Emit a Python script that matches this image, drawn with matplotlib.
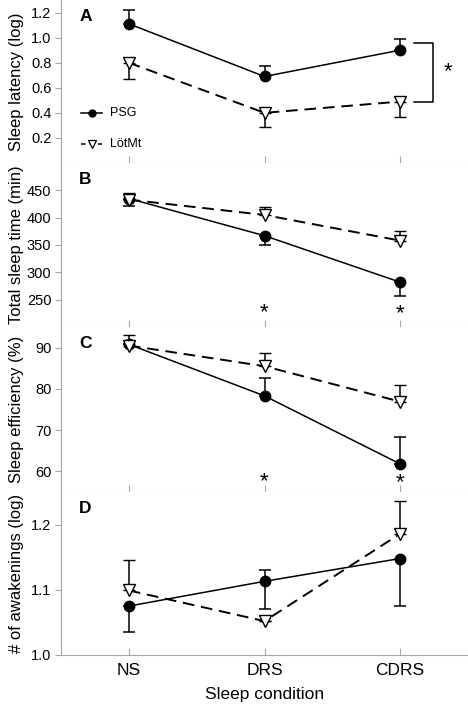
import matplotlib.pyplot as plt

plt.rcParams['font.family'] = ['Liberation Sans', 'DejaVu Sans']

conditions = ['NS', 'DRS', 'CDRS']
x = [0, 1, 2]

# panel A: sleep latency (log)
lat_psg = [1.11, 0.69, 0.90]
lat_psg_lo = [0, 0, 0]
lat_psg_hi = [0.11, 0.08, 0.09]
lat_lot = [0.80, 0.40, 0.49]
lat_lot_lo = [0.13, 0.11, 0.12]
lat_lot_hi = [0, 0, 0]

# panel B: total sleep time (min)
tst_psg = [435, 367, 282]
tst_psg_lo = [13, 17, 26]
tst_psg_hi = [0, 0, 0]
tst_lot = [433, 405, 358]
tst_lot_lo = [0, 0, 0]
tst_lot_hi = [13, 15, 17]

# panel C: sleep efficiency (%)
eff_psg = [90.8, 78.3, 61.8]
eff_psg_lo = [0, 0, 0]
eff_psg_hi = [0, 4.3, 6.5]
eff_lot = [90.5, 85.5, 76.9]
eff_lot_lo = [0, 0, 0]
eff_lot_hi = [2.5, 3.3, 4.1]

# panel D: number of awakenings (log)
awk_psg = [1.075, 1.113, 1.148]
awk_psg_lo = [0.040, 0.043, 0.073]
awk_psg_hi = [0, 0.017, 0]
awk_lot = [1.099, 1.052, 1.186]
awk_lot_lo = [0, 0, 0]
awk_lot_hi = [0.046, 0, 0.050]

W, H = 468, 706
fig = plt.figure(figsize=(W / 100, H / 100), dpi=100)

bounds = [(0, 163), (163, 327), (327, 492), (492, 655)]
axes = []
for top, bot in bounds:
    ax = fig.add_axes([61 / W, 1 - bot / H, 1 - 61 / W, (bot - top) / H])
    axes.append(ax)

grey = '#a6a6a6'


def draw(ax, psg, psg_err, lot, lot_err):
    ax.errorbar(x, psg, yerr=psg_err, color='black', lw=1.1, marker='o', ms=7.5,
                mfc='black', mec='black', capsize=4.5, elinewidth=1.1, capthick=1.1,
                zorder=3)
    ax.errorbar(x, lot, yerr=lot_err, color='black', lw=1.4, ls=(0, (6, 3.5)),
                marker='v', ms=8, mfc='white', mec='black', mew=1.0, capsize=4.5,
                elinewidth=1.1, capthick=1.1, zorder=3)


draw(axes[0], lat_psg, [lat_psg_lo, lat_psg_hi], lat_lot, [lat_lot_lo, lat_lot_hi])
draw(axes[1], tst_psg, [tst_psg_lo, tst_psg_hi], tst_lot, [tst_lot_lo, tst_lot_hi])
draw(axes[2], eff_psg, [eff_psg_lo, eff_psg_hi], eff_lot, [eff_lot_lo, eff_lot_hi])
draw(axes[3], awk_psg, [awk_psg_lo, awk_psg_hi], awk_lot, [awk_lot_lo, awk_lot_hi])

ylims = [(0.0, 1.3), (200, 500), (55, 95), (1.0, 1.25)]
yticks = [[0.2, 0.4, 0.6, 0.8, 1.0, 1.2], [250, 300, 350, 400, 450],
          [60, 70, 80, 90], [1.0, 1.1, 1.2]]
yfmt = ['{:.1f}', '{:.0f}', '{:.0f}', '{:.1f}']
ylabels = ['Sleep latency (log)', 'Total sleep time (min)',
           'Sleep efficiency (%)', '# of awakenings (log)']
letters = ['A', 'B', 'C', 'D']

for ax, yl, yt, f, lab, let in zip(axes, ylims, yticks, yfmt, ylabels, letters):
    ax.set_xlim(-0.5, 2.5)
    ax.set_ylim(*yl)
    ax.set_yticks(yt)
    ax.set_yticklabels([f.format(v) for v in yt], fontsize=10.5)
    ax.set_xticks(x)
    ax.spines['top'].set_visible(False)
    ax.spines['right'].set_visible(False)
    ax.spines['left'].set_color(grey)
    ax.spines['bottom'].set_color(grey)
    ax.tick_params(axis='y', direction='out', length=4, color=grey, pad=3)
    ax.tick_params(axis='x', direction='in', length=5, color=grey)
    ax.set_ylabel(lab, fontsize=12)
    ax.yaxis.set_label_coords(-0.092, 0.5)
    ax.text(0.045, 0.9, let, transform=ax.transAxes, fontsize=12.5,
            fontweight='bold', va='center', ha='left')

for ax in axes[:3]:
    ax.set_xticklabels([])
axes[3].set_xticklabels(conditions, fontsize=12.5)
axes[3].tick_params(axis='x', pad=6)
axes[3].set_xlabel('Sleep condition', fontsize=12.5, labelpad=6)

# legend in panel A
ax = axes[0]
ax.plot([0.05, 0.1], [0.307, 0.307], transform=ax.transAxes, color='black', lw=1.1)
ax.plot([0.075], [0.307], transform=ax.transAxes, marker='o', ms=5, color='black')
ax.text(0.12, 0.307, 'PSG', transform=ax.transAxes, fontsize=9, va='center')
ax.plot([0.05, 0.1], [0.117, 0.117], transform=ax.transAxes, color='black', lw=1.1,
        ls=(0, (3, 2.5)))
ax.plot([0.075], [0.117], transform=ax.transAxes, marker='v', ms=5.5, mfc='white',
        mec='black', mew=0.9, color='black')
ax.text(0.12, 0.117, 'LötMt', transform=ax.transAxes, fontsize=9, va='center')

# significance bracket in panel A
ax.plot([2.1, 2.24, 2.24, 2.1], [0.96, 0.96, 0.49, 0.49], color='black', lw=1.1)
ax.text(2.35, 0.725, '*', fontsize=16, ha='center', va='center')

# stars in panels B and C
axes[1].text(1, 226, '*', fontsize=16, ha='center', va='center')
axes[1].text(2, 224, '*', fontsize=16, ha='center', va='center')
axes[2].text(1, 57.6, '*', fontsize=16, ha='center', va='center')
axes[2].text(2, 57.2, '*', fontsize=16, ha='center', va='center')

fig.savefig('out.png', dpi=100)
